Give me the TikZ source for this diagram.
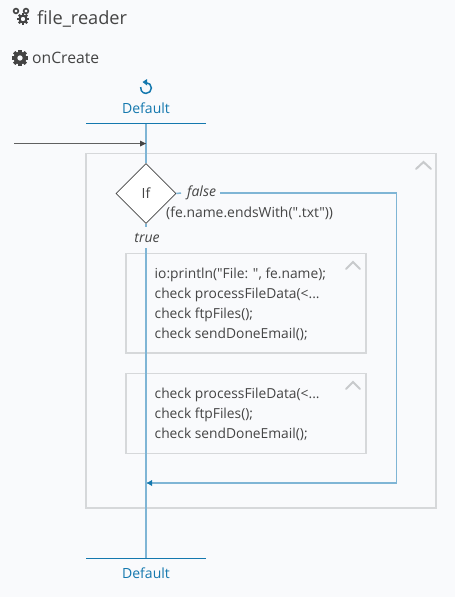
\documentclass[tikz,border=0pt]{standalone}
\usepackage{fontspec}
\newfontfamily\uifont{Open Sans}
\usetikzlibrary{shapes.geometric,arrows.meta,calc}
\definecolor{bg}{HTML}{F9FAFC}
\definecolor{ink}{HTML}{444444}
\definecolor{flow}{HTML}{7FB5D5}
\definecolor{blu}{HTML}{1478AE}
\definecolor{edge}{HTML}{D6D8DA}
\definecolor{chev}{HTML}{C8CACC}
\tikzset{
  every picture/.style={execute at begin picture=\uifont},
  x=1pt,y=-1pt,
  flowline/.style={draw=flow,line width=1.5pt},
  headline/.style={draw=blu,line width=1pt},
  blockbox/.style={draw=edge,line width=1.5pt,fill=bg,inner sep=0pt,outer sep=0pt,anchor=north west},
  code/.style={font=\fontsize{13.8}{20}\selectfont,text=ink,anchor=north west,align=left,inner sep=0pt},
  deflabel/.style={font=\fontsize{14}{15}\selectfont,text=blu,inner sep=0pt},
  branch/.style={font=\fontsize{14}{15}\selectfont\itshape,text=ink,inner sep=0pt},
  chevron/.style={draw=chev,line width=2pt,line cap=round}
}
\newcommand{\gearshape}[4]{% x y radius holefraction
  \fill[ink,even odd rule] (#1,#2) circle[radius=#3*0.82] (#1,#2) circle[radius=#3*#4];
  \foreach \a in {0,45,...,315}{
    \draw[ink,line width=#3*0.42pt] ($(#1,#2)+(\a:#3*0.7)$) -- ($(#1,#2)+(\a:#3*1.05)$);
  }
}
\begin{document}
\begin{tikzpicture}
\useasboundingbox (0,0) rectangle (455,597);
\fill[bg] (0,0) rectangle (455,597);

\node[blockbox,minimum width=350,minimum height=354.5] (outer) at (86,153.5) {};
\node[blockbox,minimum width=240,minimum height=99.5] (blockA) at (126,253.5) {};
\node[blockbox,minimum width=240,minimum height=80] (blockB) at (126,373.5) {};

\coordinate (startL) at (86,123.5);
\coordinate (startR) at (206,123.5);
\coordinate (start) at (146,123.5);
\coordinate (endL) at (86,558.5);
\coordinate (endR) at (206,558.5);
\coordinate (end) at (146,558.5);
\coordinate (entry) at (14,143.5);
\coordinate (entryEnd) at (146,143.5);
\coordinate (corner1) at (396.5,193);
\coordinate (corner2) at (396.5,483);
\coordinate (join) at (146,483);

\node[diamond,draw=ink,line width=0.6pt,fill=white,minimum width=60,minimum height=60,inner sep=0pt,font=\fontsize{14}{15}\selectfont,text=ink] (if) at (146,193.5) {If};

\draw[flowline] (start) -- (if.north);
\draw[flowline] (if.south) -- (146,227);
\node[branch] (true) at (147,237.5) {true};
\draw[flowline] (146,248) -- (end);
\draw[flowline] (if.east) -- (181,193);
\node[branch,anchor=west] (false) at (187,192.5) {false};
\draw[flowline] (220,193) -- (corner1) -- (corner2) -- (join);
\fill[blu] (147,483) -- (152,480) -- (152,486) -- cycle;

\draw[headline] (startL) -- (startR);
\draw[headline] (endL) -- (endR);
\draw[draw=ink!85,line width=1pt] (entry) -- (entryEnd);
\fill[ink] (146,143.5) -- (140,140.5) -- (140,146.5) -- cycle;

\node[deflabel] (def1) at (146,108) {Default};
\node[deflabel] (def2) at (146,573) {Default};
\node[font=\fontsize{13.9}{15}\selectfont,text=ink,anchor=west,inner sep=0pt] (cond) at (166,213) {(fe.name.endsWith(".txt"))};
\node[code] (codeA) at (154.5,268) {io:println("File: ", fe.name);\\check processFileData(<...\\check ftpFiles();\\check sendDoneEmail();};
\node[code] (codeB) at (154.5,388) {check processFileData(<...\\check ftpFiles();\\check sendDoneEmail();};

\draw[chevron] (416,169) -- (423.5,162) -- (431,169);
\draw[chevron] (346,269) -- (353,262) -- (360,269);
\draw[chevron] (346,389) -- (353,382) -- (360,389);

\node[font=\fontsize{18.2}{20}\selectfont,text=ink,anchor=west,inner sep=0pt] (title) at (37,19) {file\_reader};
\node[font=\fontsize{15.7}{18}\selectfont,text=ink,anchor=west,inner sep=0pt] (sub) at (32,58) {onCreate};

\gearshape{23}{19}{5.6}{0.42}
\draw[ink,line width=1.6pt] (16,11) circle[radius=2.4];
\draw[ink,line width=1.6pt] (26,11) circle[radius=2.4];
\gearshape{20}{58}{7.8}{0.36}
\draw[blu,line width=1.5pt] (146,88) ++(-90:5.4) arc[start angle=-90,end angle=190,radius=5.4];
\fill[blu] (142.5,82) -- (147,79) -- (147,85.5) -- cycle;
\end{tikzpicture}
\end{document}
